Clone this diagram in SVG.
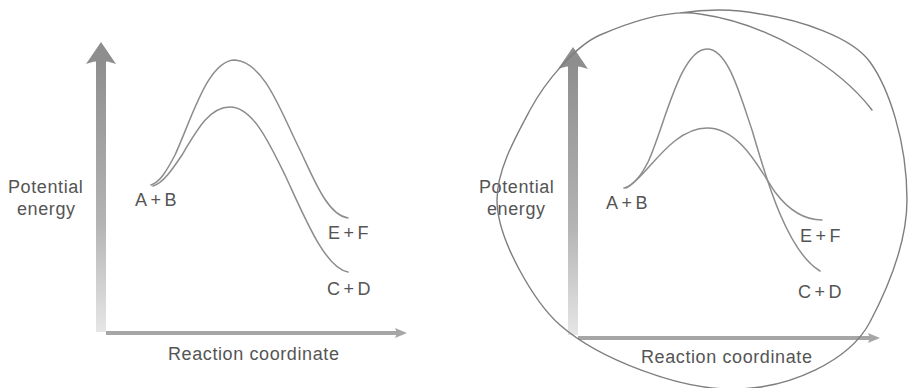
<svg xmlns="http://www.w3.org/2000/svg" width="908" height="388" viewBox="0 0 908 388">
  <defs>
    <linearGradient id="yaxisGrad" x1="0" y1="0" x2="0" y2="1">
      <stop offset="0" stop-color="#8e8e8e"/>
      <stop offset="0.6" stop-color="#b4b4b4"/>
      <stop offset="1" stop-color="#e6e6e6"/>
    </linearGradient>
    <style>
      .lbl { font-family: "Liberation Sans", Arial, sans-serif; font-size: 18px; fill: #555555; letter-spacing: 0.6px; }
      .sp { letter-spacing: 3.5px; }
      .curve { fill: none; stroke: #8c8c8c; stroke-width: 1.5; stroke-linecap: round; }
      .xaxis { stroke: #a6a6a6; stroke-width: 4; }
      .xhead { fill: #a6a6a6; }
      .yhead { fill: #8e8e8e; }
      .loop { fill: none; stroke: #7e7e7e; stroke-width: 1.4; stroke-linecap: round; }
    </style>
  </defs>
  <rect width="908" height="388" fill="#ffffff"/>

  <!-- Left panel -->
  <g id="left-panel">
    <g id="left-y-axis">
      <rect x="96" y="60" width="10" height="272" fill="url(#yaxisGrad)"/>
      <path class="yhead" d="M101,42 L116,64 Q101,58 86,64 Z"/>
    </g>
    <g id="left-x-axis">
      <line class="xaxis" x1="106" y1="333" x2="398" y2="333"/>
      <path class="xhead" d="M407,333 L395,328 L397,333 L395,338 Z"/>
    </g>
    <g id="left-ylabel">
      <text class="lbl" x="8" y="193">Potential</text>
      <text class="lbl" x="17" y="215">energy</text>
    </g>
    <text id="left-xlabel" class="lbl" x="168" y="360">Reaction coordinate</text>
    <text id="left-ab" class="lbl sp" x="135" y="206">A+B</text>
    <text id="left-ef" class="lbl sp" x="328" y="239">E+F</text>
    <text id="left-cd" class="lbl sp" x="327" y="295">C+D</text>
  </g>

  <!-- Right panel -->
  <g id="right-panel">
    <g id="right-y-axis">
      <rect x="568" y="65" width="10" height="270" fill="url(#yaxisGrad)"/>
      <path class="yhead" d="M573,47 L588,69 Q573,63 558,69 Z"/>
    </g>
    <g id="right-x-axis">
      <line class="xaxis" x1="578" y1="338" x2="871" y2="338"/>
      <path class="xhead" d="M880,338 L868,333 L870,338 L868,343 Z"/>
    </g>
    <g id="right-ylabel">
      <text class="lbl" x="479" y="193">Potential</text>
      <text class="lbl" x="487" y="215">energy</text>
    </g>
    <text id="right-xlabel" class="lbl" x="641" y="363">Reaction coordinate</text>
    <text id="right-ab" class="lbl sp" x="606" y="209">A+B</text>
    <text id="right-ef" class="lbl sp" x="800" y="242">E+F</text>
    <text id="right-cd" class="lbl sp" x="798" y="298">C+D</text>
  </g>

  <!-- Curves -->
  <g id="connectors">
    <path id="left-upper" class="curve" d="M151,185 C160,182 166,172 175,155 C192,118 208,60 235,60 C265,62 282,115 300,150 C315,182 328,215 348,218"/>
    <path id="left-lower" class="curve" d="M153,186 C163,183 172,170 182,155 C198,128 210,107 230,107 C252,107 268,140 285,175 C305,218 325,268 348,272"/>
    <path id="right-tall" class="curve" d="M624,188 C632,186 640,178 648,162 C664,128 680,49 707,49 C728,49 740,95 752,130 C764,170 785,250 820,271"/>
    <path id="right-low" class="curve" d="M626,188 C645,180 670,128 707,128 C740,128 760,170 775,192 C790,212 805,220 822,220"/>
  </g>

  <!-- Hand-drawn loop -->
  <path id="highlight-loop" class="loop" d="M872,110 C840,68 770,24 700,14 C670,9 630,22 600,35 C575,46 545,82 530,110 C515,138 497,170 497,200 C497,240 535,303 560,325 C600,360 680,389 730,389 C790,390 850,360 870,322 C890,284 907,240 907,200 C907,140 888,87 870,62 C852,37 800,20 760,14 C730,8 700,10 680,13"/>
</svg>
